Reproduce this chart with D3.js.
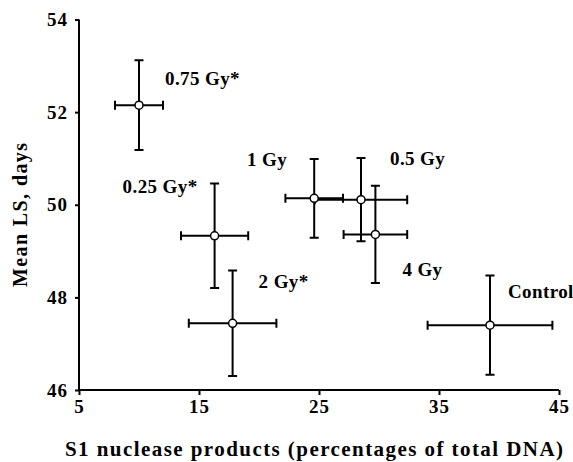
<!DOCTYPE html>
<html>
<head>
<meta charset="utf-8">
<script src="https://cdn.jsdelivr.net/npm/d3@7"></script>
<style>
  body { margin: 0; background: #fff; }
  text { font-family: "Liberation Serif", "Times New Roman", serif; font-weight: bold; fill: #000; }
</style>
</head>
<body>
<div id="chart"></div>
<script>
// dose groups and their values
const groups = ['0.75 Gy*', '0.25 Gy*', '1 Gy', '0.5 Gy', '4 Gy', '2 Gy*', 'Control']
const s1Products = [10.0, 16.3, 24.6, 28.5, 29.7, 17.8, 39.25]
const s1Err = [2.0, 2.8, 2.4, 3.85, 2.65, 3.65, 5.2]
const meanLS = [52.15, 49.33, 50.14, 50.11, 49.36, 47.44, 47.4]
const lsErr = [0.97, 1.13, 0.85, 0.9, 1.05, 1.14, 1.07]
const xTicks = [5, 15, 25, 35, 45]
const yTicks = [46, 48, 50, 52, 54]

// label placement relative to the point (layout only)
const labelOffset = [[26, -20, 'start'], [-17, -43, 'end'], [-27, -32, 'end'], [29, -35, 'start'],
                     [27, 42, 'start'], [26, -35, 'start'], [18, -27, 'start']]

const width = 573
const height = 462

const x = d3.scaleLinear().domain([5, 45]).range([79, 559])
const y = d3.scaleLinear().domain([46, 54]).range([390, 19.5])

const svg = d3.select('#chart').append('svg').attr('width', width).attr('height', height)

const data = groups.map((g, i) => ({
    name: g, x: s1Products[i], xe: s1Err[i], y: meanLS[i], ye: lsErr[i], off: labelOffset[i]
}))

// axes
const xAxis = svg.append('g')
    .attr('transform', `translate(0,${y(46)})`)
    .call(d3.axisBottom(x).tickValues(xTicks).tickSize(5).tickPadding(4).tickFormat(d3.format('d')))
const yAxis = svg.append('g')
    .attr('transform', `translate(${x(5)},0)`)
    .call(d3.axisLeft(y).tickValues(yTicks).tickSize(4).tickPadding(7).tickFormat(d3.format('d')))

;[xAxis, yAxis].forEach(ax => {
    ax.select('.domain').attr('stroke', '#000').attr('stroke-width', 2)
    ax.selectAll('.tick line').attr('stroke', '#000').attr('stroke-width', 2)
    ax.selectAll('.tick text')
        .style('font-family', '"Liberation Serif", serif')
        .style('font-weight', 'bold')
        .style('font-size', '19px')
        .style('letter-spacing', '1px')
        .attr('fill', '#000')
})
xAxis.selectAll('.tick text').attr('dy', '0.75em')
xAxis.select('.domain').attr('d', `M${x(5)},0H${x(45)}`)
yAxis.select('.domain').attr('d', `M0,${y(54)}V${y(46)}`)

// error bars
const cap = 4.5
const bars = svg.append('g').attr('stroke', '#000').attr('stroke-width', 2).attr('fill', 'none')
bars.selectAll('path.v')
    .data(data)
    .join('path')
    .attr('class', 'v')
    .attr('d', d => `M${x(d.x)},${y(d.y + d.ye)}V${y(d.y - d.ye)}` +
        `M${x(d.x) - cap},${y(d.y + d.ye)}H${x(d.x) + cap}` +
        `M${x(d.x) - cap},${y(d.y - d.ye)}H${x(d.x) + cap}`)
bars.selectAll('path.h')
    .data(data)
    .join('path')
    .attr('class', 'h')
    .attr('d', d => `M${x(d.x - d.xe)},${y(d.y)}H${x(d.x + d.xe)}` +
        `M${x(d.x - d.xe)},${y(d.y) - cap}V${y(d.y) + cap}` +
        `M${x(d.x + d.xe)},${y(d.y) - cap}V${y(d.y) + cap}`)

// points
svg.append('g')
    .selectAll('circle')
    .data(data)
    .join('circle')
    .attr('cx', d => x(d.x))
    .attr('cy', d => y(d.y))
    .attr('r', 4)
    .attr('fill', '#fff')
    .attr('stroke', '#000')
    .attr('stroke-width', 1.5)

// point labels
svg.append('g')
    .style('font-size', '19px')
    .style('letter-spacing', '0.4px')
    .selectAll('text')
    .data(data)
    .join('text')
    .attr('x', d => x(d.x) + d.off[0])
    .attr('y', d => y(d.y) + d.off[1])
    .attr('text-anchor', d => d.off[2])
    .text(d => d.name)

// axis titles
svg.append('text')
    .attr('x', 65)
    .attr('y', 456)
    .attr('textLength', 498)
    .attr('lengthAdjust', 'spacing')
    .style('font-size', '21px')
    .text('S1 nuclease products (percentages of total DNA)')

svg.append('text')
    .attr('transform', `translate(27,287) rotate(-90)`)
    .attr('textLength', 144)
    .attr('lengthAdjust', 'spacing')
    .style('font-size', '20px')
    .text('Mean LS, days')
</script>
</body>
</html>
